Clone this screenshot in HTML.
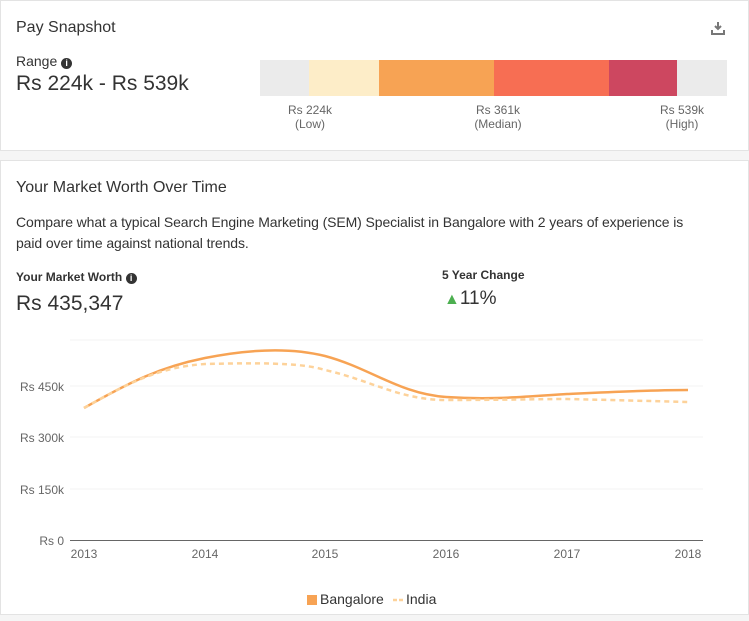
<!DOCTYPE html>
<html><head><meta charset="utf-8"><style>
body{margin:0;width:749px;height:621px;background:#f5f5f5;font-family:"Liberation Sans",sans-serif;color:#333;position:relative;overflow:hidden}
.card{position:absolute;left:0;width:747px;background:#fff;border:1px solid #e3e3e3}
.t{position:absolute;white-space:nowrap}
</style></head><body>
<div class="card" style="top:0;height:149px"></div>
<div class="card" style="top:160px;height:453px"></div>
<div class="t" style="left:16px;top:19px;font-size:16px;color:#333">Pay Snapshot</div>
<svg class="t" style="left:711px;top:21px" width="14" height="14"><path d="M7 1v7M4 5l3 3 3-3" stroke="#777" stroke-width="2" fill="none"/><path d="M1 9v4h12V9" stroke="#777" stroke-width="2" fill="none"/></svg>
<div class="t" style="left:16px;top:53px;font-size:14px">Range <span style="display:inline-block;width:11px;height:11px;border-radius:50%;background:#333;color:#fff;font-size:9px;text-align:center;line-height:11px;font-weight:bold;vertical-align:0">i</span></div>
<div class="t" style="left:16px;top:72px;font-size:21px;color:#333">Rs 224k - Rs 539k</div>
<div class="t" style="left:260px;top:60px;width:467px;height:36px;background:#ebebeb"></div>
<div class="t" style="left:309px;top:60px;width:70px;height:36px;background:#fdedc8"></div>
<div class="t" style="left:379px;top:60px;width:115px;height:36px;background:#f7a354"></div>
<div class="t" style="left:494px;top:60px;width:115px;height:36px;background:#f76e53"></div>
<div class="t" style="left:609px;top:60px;width:68px;height:36px;background:#cd4760"></div>
<div class="t" style="left:280px;top:103px;width:60px;text-align:center;font-size:12px;color:#666;line-height:14px">Rs 224k<br>(Low)</div>
<div class="t" style="left:463px;top:103px;width:70px;text-align:center;font-size:12px;color:#666;line-height:14px">Rs 361k<br>(Median)</div>
<div class="t" style="left:652px;top:103px;width:60px;text-align:center;font-size:12px;color:#666;line-height:14px">Rs 539k<br>(High)</div>
<div class="t" style="left:16px;top:179px;font-size:16px">Your Market Worth Over Time</div>
<div class="t" style="left:16px;top:212px;font-size:14px;line-height:21px;white-space:normal;width:685px;letter-spacing:-0.1px">Compare what a typical Search Engine Marketing (SEM) Specialist in Bangalore with 2 years of experience is paid over time against national trends.</div>
<div class="t" style="left:16px;top:270px;font-size:12px;font-weight:bold">Your Market Worth <span style="display:inline-block;width:11px;height:11px;border-radius:50%;background:#333;color:#fff;font-size:9px;text-align:center;line-height:11px">i</span></div>
<div class="t" style="left:16px;top:292px;font-size:21px">Rs 435,347</div>
<div class="t" style="left:442px;top:268px;font-size:12px;font-weight:bold">5 Year Change</div>
<div class="t" style="left:444px;top:288px;font-size:19px"><span style="color:#4caf50;font-size:16px">▲</span>11%</div>
<svg class="t" style="left:0;top:330px" width="749" height="283">
<g stroke="#f3f3f3"><line x1="70" y1="10" x2="703" y2="10"/><line x1="70" y1="56" x2="703" y2="56"/><line x1="70" y1="107" x2="703" y2="107"/><line x1="70" y1="159" x2="703" y2="159"/></g>
<line x1="70" y1="210.5" x2="703" y2="210.5" stroke="#666"/>
<g font-size="12" fill="#666" text-anchor="end" font-family="Liberation Sans"><text x="64" y="61">Rs 450k</text><text x="64" y="112">Rs 300k</text><text x="64" y="164">Rs 150k</text><text x="64" y="215">Rs 0</text></g>
<rect x="1" y="40" width="15" height="140" fill="#fff"/>
<g font-size="12" fill="#666" text-anchor="middle" font-family="Liberation Sans"><text x="84" y="228">2013</text><text x="205" y="228">2014</text><text x="325" y="228">2015</text><text x="446" y="228">2016</text><text x="567" y="228">2017</text><text x="688" y="228">2018</text></g>
<path d="M84 78 C130 52,160 37,205 28 C240 21,285 16,325 26 C370 38,400 64,446 67 C490 70,520 67,567 64 C610 62,650 60,688 60" stroke="#f7a354" stroke-width="2.5" fill="none"/>
<path d="M84 78 C130 52,160 37,205 34 C250 33,300 32,325 40 C370 50,400 70,446 70 C500 70,540 69,567 69 C610 70,650 71,688 72" stroke="#fdd29a" stroke-width="2.5" stroke-dasharray="5,4" fill="none"/>
<rect x="307" y="265" width="10" height="10" fill="#f7a354"/>
<text x="320" y="274" font-size="14" fill="#333" font-family="Liberation Sans">Bangalore</text>
<line x1="393" y1="270" x2="403" y2="270" stroke="#fdd29a" stroke-width="2.5" stroke-dasharray="4,2"/>
<text x="406" y="274" font-size="14" fill="#333" font-family="Liberation Sans">India</text>
</svg>
</body></html>
